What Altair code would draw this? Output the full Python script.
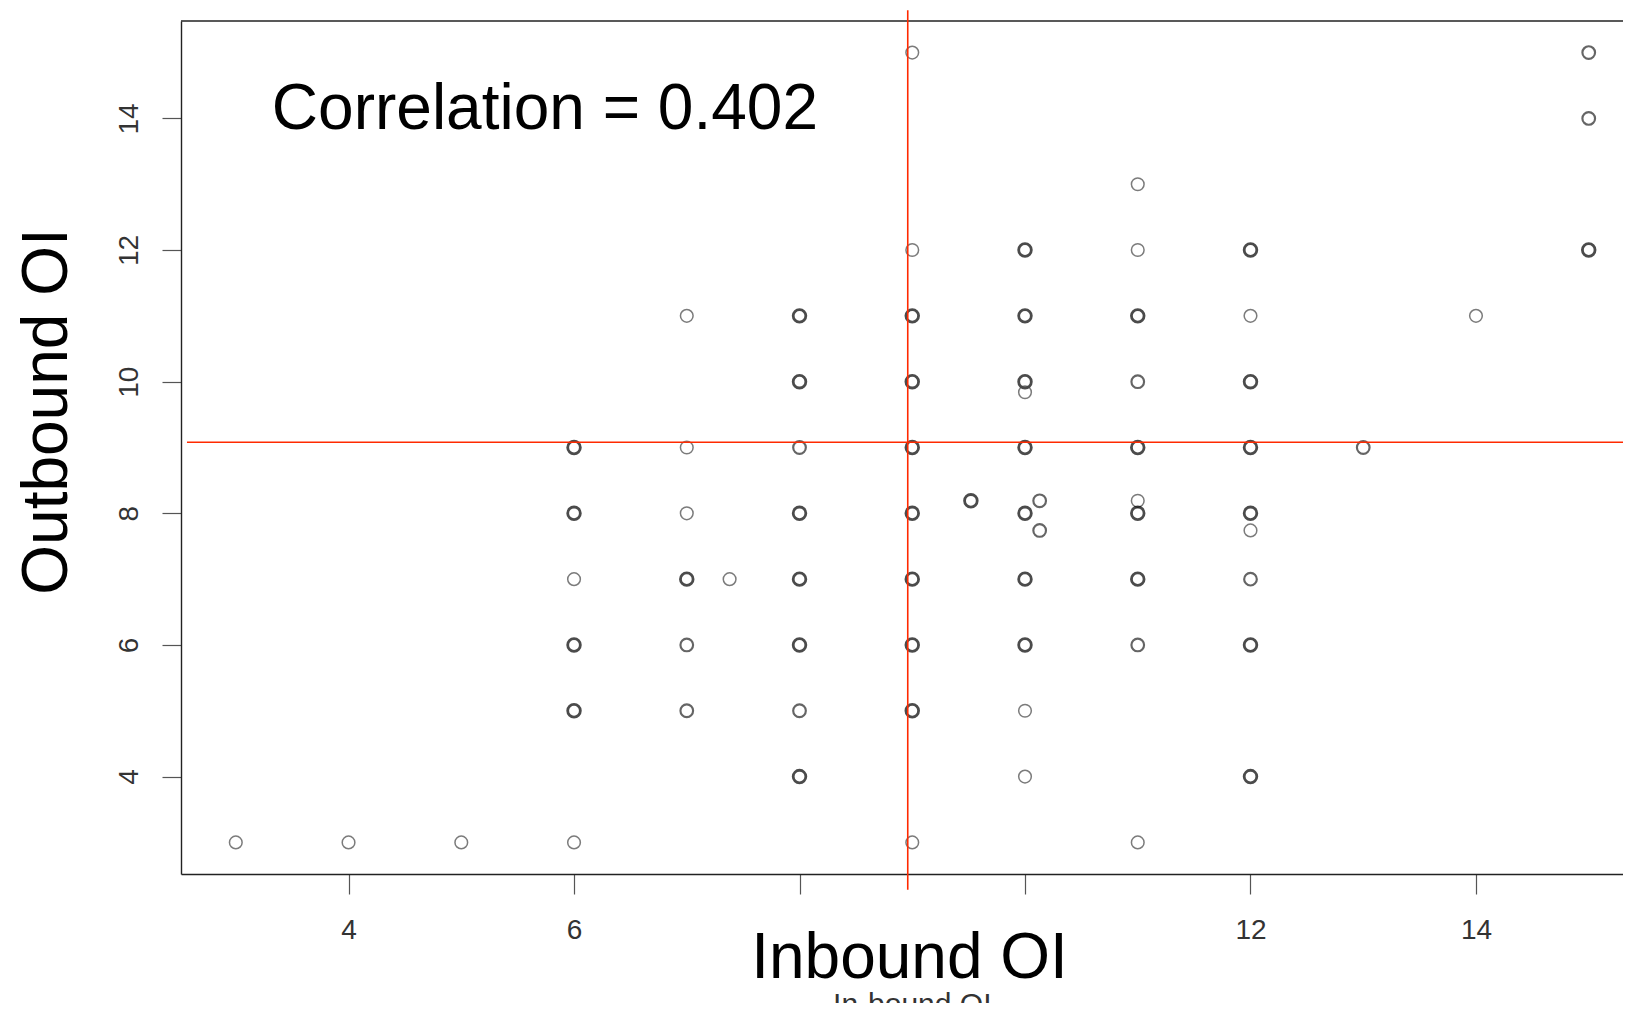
import altair as alt
import pandas as pd

# ---- data ----
inbound = [3, 4, 5,
           6, 6, 6, 6, 6, 6,
           7, 7, 7, 7, 7, 7, 7.38,
           8, 8, 8, 8, 8, 8, 8, 8,
           9, 9, 9, 9, 9, 9, 9, 9, 9, 9, 9.52,
           10, 10, 10, 10, 10, 10, 10, 10, 10, 10, 10.13, 10.13,
           11, 11, 11, 11, 11, 11, 11, 11, 11, 11,
           12, 12, 12, 12, 12, 12, 12, 12, 12,
           13, 14, 15, 15, 15]
outbound = [3, 3, 3,
            9, 8, 7, 6, 5, 3,
            11, 9, 8, 7, 6, 5, 7,
            11, 10, 9, 8, 7, 6, 5, 4,
            15, 12, 11, 10, 9, 8, 7, 6, 5, 3, 8.19,
            12, 11, 10, 9.84, 9, 8, 7, 6, 5, 4, 8.19, 7.74,
            13, 12, 11, 10, 9, 8.19, 8, 7, 6, 3,
            12, 11, 10, 9, 8, 7.74, 7, 6, 4,
            9, 11, 15, 14, 12]
# overlap level (1 = single point, 3 = many overplotted)
overlap = [1, 1, 1,
           3, 3, 1, 3, 3, 1,
           1, 1, 1, 3, 2, 2, 1,
           3, 3, 2, 3, 3, 3, 2, 3,
           1, 1, 3, 3, 3, 3, 3, 3, 3, 1, 3,
           3, 3, 3, 1, 3, 3, 3, 3, 1, 1, 2, 2,
           1, 1, 3, 2, 3, 1, 3, 3, 2, 1,
           3, 1, 3, 3, 3, 1, 2, 3, 3,
           2, 1, 2, 2, 3]

mean_inbound = [8.96]
mean_outbound = [9.08]
x_ticks = [4, 6, 8, 10, 12, 14]
y_ticks = [4, 6, 8, 10, 12, 14]
x_domain = [2.514, 15.304]
y_domain = [2.52, 15.48]
correlation_label = "Correlation = 0.402"
x_title = "Inbound OI"
y_title = "Outbound OI"
r_xlab = "In-bound OI"

pts = pd.DataFrame({"inbound": inbound, "outbound": outbound, "overlap": overlap})
means = pd.DataFrame({"mx": mean_inbound, "my": mean_outbound})

FONT = "Liberation Sans"
xs = alt.Scale(domain=x_domain, nice=False, zero=False)
ys = alt.Scale(domain=y_domain, nice=False, zero=False)

points = alt.Chart(pts).mark_point(shape="circle", filled=False, size=160).encode(
    x=alt.X("inbound:Q", scale=xs, axis=alt.Axis(
        values=x_ticks, grid=False, title=x_title, format="d",
        labelExpr="datum.value == 8 || datum.value == 10 ? '' : datum.label",
        labelFont=FONT, labelFontSize=28, labelColor="#333333", labelPadding=22,
        labelFlush=False, labelOverlap=False,
        tickSize=20, tickColor="#555555", tickWidth=1.2,
        domainColor="#222222", domainWidth=1.4,
        titleFont=FONT, titleFontSize=64, titleFontWeight="normal", titleColor="#000000",
        titleX=728, titleY=103, titleBaseline="alphabetic", titleAlign="center",
        titleAnchor="start")),
    y=alt.Y("outbound:Q", scale=ys, axis=alt.Axis(
        values=y_ticks, grid=False, title=y_title, format="d",
        labelAngle=270, labelAlign="center", labelBaseline="alphabetic",
        labelFont=FONT, labelFontSize=28, labelColor="#333333", labelPadding=25,
        labelFlush=False, labelOverlap=False,
        tickSize=19, tickColor="#555555", tickWidth=1.2,
        domainColor="#222222", domainWidth=1.4,
        titleFont=FONT, titleFontSize=64, titleFontWeight="normal", titleColor="#000000",
        titleAngle=270, titleX=-115, titleY=390, titleBaseline="alphabetic",
        titleAlign="center", titleAnchor="start")),
    color=alt.Color("overlap:Q", scale=alt.Scale(domain=[1, 3], range=["#444444", "#000000"]), legend=None),
    strokeWidth=alt.StrokeWidth("overlap:Q", scale=alt.Scale(domain=[1, 3], range=[1.5, 2.8]), legend=None),
)

top_border = alt.Chart(pd.DataFrame({"y": [y_domain[1]]})).mark_rule(color="#222222", strokeWidth=1.4).encode(
    y=alt.Y("y:Q", scale=ys),
    x=alt.datum(x_domain[0], scale=xs),
    x2=alt.datum(x_domain[1]),
)

vline = alt.Chart(means).mark_rule(color="#ff2a00", strokeWidth=1.6, clip=False).encode(
    x=alt.X("mx:Q", scale=xs),
    y=alt.datum(15.645),
    y2=alt.datum(2.279),
)
hline = alt.Chart(means).mark_rule(color="#ff2a00", strokeWidth=1.6, clip=False).encode(
    y=alt.Y("my:Q", scale=ys),
    x=alt.datum(2.567),
    x2=alt.datum(15.35),
)

corr = alt.Chart(pd.DataFrame({"t": [correlation_label]})).mark_text(
    font=FONT, fontSize=64, align="left", baseline="alphabetic", color="#000000"
).encode(
    x=alt.datum(3.32, scale=xs),
    y=alt.datum(13.84, scale=ys),
    text="t:N",
)

xlab = alt.Chart(pd.DataFrame({"t": [r_xlab]})).mark_text(
    font=FONT, fontSize=30, align="center", baseline="alphabetic", color="#333333", clip=False
).encode(
    x=alt.datum(9.0, scale=xs),
    y=alt.datum(0.40, scale=ys),
    text="t:N",
)

chart = alt.layer(points, top_border, vline, hline, corr, xlab).properties(
    width=1442, height=853,
    autosize=alt.AutoSizeParams(type="none"),
    padding={"left": 173, "top": 13, "right": 0, "bottom": 129},
    background="#ffffff",
).configure_view(stroke=None)

chart.save("out.html", embed_options={"renderer": "svg", "actions": False})
